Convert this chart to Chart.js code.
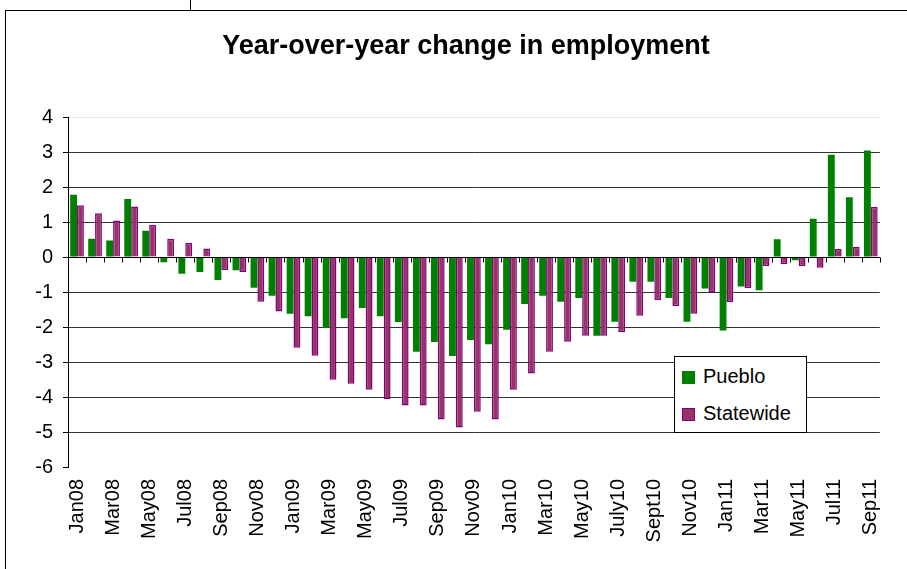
<!DOCTYPE html>
<html>
<head>
<meta charset="utf-8">
<title>Year-over-year change in employment</title>
<script src="https://cdn.jsdelivr.net/npm/chart.js@4.4.1/dist/chart.umd.min.js"></script>
<style>
  body { margin: 0; background: #fff; font-family: "Liberation Sans", Arial, sans-serif; }
  #page { position: relative; width: 907px; height: 569px; overflow: hidden; }
  #frame { position: absolute; left: 5px; top: 10px; width: 940px; height: 600px;
           border-left: 1px solid #000; border-top: 1px solid #000; }
  #stub { position: absolute; left: 190px; top: 0; width: 1px; height: 10px; background: #000; }
  #chart { position: absolute; left: 0; top: 0; }
  #title { position: absolute; left: 0; top: 29px; width: 932px; text-align: center;
           font-size: 27px; line-height: 32px; font-weight: bold; color: #000; }
  #legend { position: absolute; left: 674px; top: 356px; width: 131px; height: 75px;
            border: 1px solid #000; background: #fff; }
  #legend .item { position: absolute; left: 7px; height: 20px; font-size: 20px; line-height: 20px; color: #000; white-space: nowrap; }
  #legend .box { display: inline-block; width: 11px; height: 11px; margin-right: 8px; vertical-align: -1px; }
</style>
</head>
<body>
<div id="page">
  <div id="frame"></div>
  <div id="stub"></div>
  <canvas id="chart" width="907" height="569"></canvas>
  <div id="title">Year-over-year change in employment</div>
  <div id="legend"></div>
</div>
<script>
// Months Jan08 .. Sep11 (labels as printed on the chart)
const months = [
  "Jan08", "Feb08", "Mar08", "Apr08", "May08", "Jun08", "Jul08", "Aug08", "Sep08", "Oct08", "Nov08", "Dec08",
  "Jan09", "Feb09", "Mar09", "Apr09", "May09", "Jun09", "Jul09", "Aug09", "Sep09", "Oct09", "Nov09", "Dec09",
  "Jan10", "Feb10", "Mar10", "Apr10", "May10", "Jun10", "July10", "Aug10", "Sept10", "Oct10", "Nov10", "Dec10",
  "Jan11", "Feb11", "Mar11", "Apr11", "May11", "Jun11", "Jul11", "Aug11", "Sep11"
];

const pueblo = [
  1.78, 0.52, 0.47, 1.66, 0.75, -0.15, -0.48, -0.43, -0.66, -0.38, -0.88, -1.11,
  -1.62, -1.69, -2.02, -1.75, -1.46, -1.69, -1.86, -2.71, -2.43, -2.83, -2.37, -2.49,
  -2.08, -1.34, -1.11, -1.28, -1.17, -2.25, -1.85, -0.71, -0.71, -1.17, -1.85, -0.90,
  -2.10, -0.84, -0.95, 0.51, -0.09, 1.09, 2.92, 1.71, 3.04
];

const statewide = [
  1.48, 1.25, 1.04, 1.44, 0.92, 0.52, 0.41, 0.24, -0.37, -0.43, -1.28, -1.56,
  -2.59, -2.82, -3.51, -3.62, -3.79, -4.06, -4.24, -4.24, -4.64, -4.87, -4.42, -4.64,
  -3.79, -3.33, -2.71, -2.42, -2.25, -2.25, -2.14, -1.68, -1.23, -1.40, -1.62, -1.00,
  -1.29, -0.89, -0.26, -0.20, -0.26, -0.31, 0.23, 0.29, 1.43
];

const seriesNames = ["Pueblo", "Statewide"];
const yMin = -6;
const yMax = 4;

// category axis drawn at zero with small ticks between months
const zeroAxis = {
  id: "zeroAxis",
  afterDatasetsDraw(chart) {
    const { ctx, chartArea, scales: { x, y } } = chart;
    const y0 = Math.round(y.getPixelForValue(0)) + 0.5;
    const half = (x.getPixelForValue(1) - x.getPixelForValue(0)) / 2;
    ctx.save();
    ctx.strokeStyle = "#000";
    ctx.lineWidth = 1;
    ctx.beginPath();
    ctx.moveTo(chartArea.left, y0);
    ctx.lineTo(chartArea.right, y0);
    for (let i = 0; i <= months.length; i++) {
      const px = Math.round(x.getPixelForValue(i) - half) + 0.5;
      ctx.moveTo(px, y0);
      ctx.lineTo(px, y0 + 5);
    }
    ctx.stroke();
    ctx.restore();
  }
};

const ctx = document.getElementById("chart").getContext("2d");
const chart = new Chart(ctx, {
  type: "bar",
  data: {
    labels: months,
    datasets: [
      {
        label: seriesNames[0],
        data: pueblo,
        backgroundColor: "#008000",
        borderWidth: 0,
      },
      {
        label: seriesNames[1],
        data: statewide,
        backgroundColor: "#993366",
        borderColor: "#800080",
        borderWidth: 1.5,
      },
    ],
  },
  options: {
    responsive: false,
    animation: false,
    categoryPercentage: 0.76,
    barPercentage: 1.0,
    layout: { padding: { left: 8, right: 17, top: 117, bottom: 0 } },
    plugins: {
      legend: { display: false },
      tooltip: { enabled: false },
    },
    scales: {
      x: {
        grid: { display: false, drawTicks: false },
        border: { display: false },
        ticks: {
          autoSkip: false,
          maxRotation: 90,
          minRotation: 90,
          padding: 12,
          color: "#000",
          font: { family: "'Liberation Sans', Arial, sans-serif", size: 20 },
          callback: (v, i) => (i % 2 === 0 ? months[i] : ""),
        },
        afterFit(scale) { scale.height = 102; },
      },
      y: {
        min: yMin,
        max: yMax,
        grid: {
          color: (c) => (c.tick.value === yMax ? "#e6e6e6" : c.tick.value === yMin ? "rgba(0,0,0,0)" : "#333"),
          tickColor: "#000",
          tickLength: 5,
        },
        border: { display: true, color: "#000" },
        ticks: {
          stepSize: 1,
          padding: 10,
          color: "#000",
          font: { family: "'Liberation Sans', Arial, sans-serif", size: 20 },
        },
        afterFit(scale) { scale.width = 60; },
      },
    },
  },
  plugins: [zeroAxis],
});

// legend box inside the plot, built from the datasets
const legendEl = document.getElementById("legend");
chart.data.datasets.forEach((ds, i) => {
  const item = document.createElement("div");
  item.className = "item";
  item.style.top = (i === 0 ? 9 : 46) + "px";
  const box = document.createElement("span");
  box.className = "box";
  box.style.background = ds.backgroundColor;
  box.style.border = "1px solid " + (ds.borderColor || ds.backgroundColor);
  item.appendChild(box);
  item.appendChild(document.createTextNode(ds.label));
  legendEl.appendChild(item);
});
</script>
</body>
</html>
